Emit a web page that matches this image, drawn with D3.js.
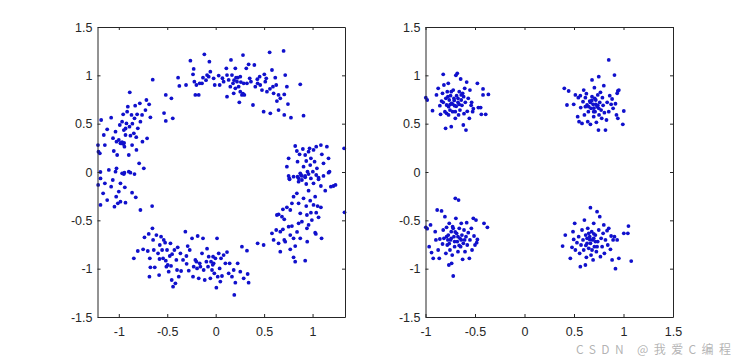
<!DOCTYPE html>
<html>
<head>
<meta charset="utf-8">
<script src="https://cdn.jsdelivr.net/npm/d3@7"></script>
<style>
  html, body { margin: 0; padding: 0; background: #ffffff; }
  svg { display: block; }
</style>
</head>
<body>
<svg id="chart" width="745" height="356"></svg>
<script>
// ---------------- DATA ----------------
// Left panel: noisy ring split in four arcs
const ringTop = [
  [-0.65,0.955],[-0.515,0.797],[-0.457,0.762],[-0.533,0.61],[-0.515,0.528],[-0.443,0.555],
  [-0.388,0.976],[-0.375,0.89],[-0.306,0.90],[-0.261,1.152],[-0.227,1.066],[-0.234,1.01],
  [-0.22,0.934],[-0.21,0.797],[-0.175,0.797],[-0.199,0.90],[-0.165,0.917],[-0.141,0.917],
  [-0.117,1.217],[-0.131,0.976],[-0.089,1.003],[-0.065,1.141],[-0.055,1.038],[-0.072,0.986],
  [-0.021,0.969],[-0.01,0.90],[0.031,0.997],[0.041,0.90],[0.082,0.934],[0.11,1.072],
  [0.117,1.003],[0.117,0.779],[0.134,0.952],[0.151,0.883],[0.158,1.159],[0.168,1.003],
  [0.179,0.917],[0.186,0.814],[0.203,1.072],[0.21,0.976],[0.22,0.934],[0.227,0.976],
  [0.237,0.883],[0.244,0.721],[0.254,0.986],[0.271,0.797],[0.282,1.21],[0.289,0.917],
  [0.296,0.797],[0.316,1.072],[0.323,0.917],[0.34,1.114],[0.351,0.969],[0.364,0.934],
  [0.385,0.693],[0.399,1.107],[0.409,0.883],[0.433,0.917],[0.454,0.986],[0.46,0.90],
  [0.478,0.848],[0.495,0.624],[0.502,1.01],[0.512,0.934],[0.522,0.969],[0.529,0.831],
  [0.557,1.238],[0.564,0.607],[0.581,1.055],[0.591,0.883],[0.598,0.814],[0.615,0.976],
  [0.625,0.90],[0.632,0.734],[0.649,0.641],[0.667,0.762],[0.701,1.252],[0.708,0.803],
  [0.718,1.003],[0.735,0.883],[0.746,0.703],[0.708,0.59],[0.777,0.562],[0.873,0.907],
  [0.907,0.583],[0.649,0.797],[0.254,0.831],[0.203,0.866],[0.282,0.810],[0.19,0.95],
  [0.26,0.93],[0.43,0.96],[0.56,0.86],[0.07,0.97],[-0.10,0.95]
];
const ringLeft = [
  [-0.887,0.824],[-1.215,0.279],[-1.21,0.21],[-1.196,0.193],[-1.182,0.538],[-1.155,0.383],
  [-1.144,0.279],[-1.12,0.441],[-1.079,0.562],[-1.052,0.217],[-1.034,0.417],[-1.024,0.314],
  [-1.017,0.176],[-1.0,0.331],[-0.99,0.486],[-0.983,0.297],[-0.966,0.521],[-0.955,0.597],
  [-0.948,0.434],[-0.942,0.262],[-0.931,0.383],[-0.921,0.503],[-0.914,0.624],[-0.907,0.676],
  [-0.897,0.176],[-0.89,0.469],[-0.88,0.376],[-0.869,0.59],[-0.863,0.279],[-0.845,0.40],
  [-0.838,0.555],[-0.831,0.686],[-0.818,0.228],[-0.811,0.597],[-0.804,0.452],[-0.79,0.09],
  [-0.783,0.71],[-0.777,0.521],[-0.76,0.59],[-0.756,0.314],[-0.742,0.038],[-0.725,0.641],
  [-0.715,0.745],[-0.708,0.348],[-0.687,0.70],[-0.674,0.566],[-0.966,0.31],[-0.955,0.29],
  [-0.945,0.30],[-0.975,0.30],[-1.103,0.021],[-1.024,0.038],[-0.942,-0.007],[-0.897,0.003],
  [-1.19,0.0],[-1.189,-0.066],[-1.162,-0.221],[-1.144,-0.117],[-1.213,-0.134],[-1.12,-0.29],
  [-1.079,-0.152],[-1.062,-0.083],[-1.034,0.003],[-1.045,-0.359],[-1.027,-0.255],[-1.01,-0.324],
  [-1.0,-0.203],[-0.983,-0.117],[-0.983,-0.307],[-0.966,-0.014],[-0.948,-0.021],[-0.938,-0.159],
  [-0.931,-0.317],[-0.88,-0.007],[-0.863,-0.214],[-0.838,-0.021],[-0.825,-0.262],[-0.777,-0.393],
  [-0.656,-0.352],[-1.189,-0.341],[-0.93,0.45],[-0.86,0.50],[-1.06,0.35],[-0.82,0.36]
];
const ringBottom = [
  [-0.845,-0.893],[-0.804,-0.817],[-0.749,-0.80],[-0.735,-0.676],[-0.701,-0.817],[-0.691,-0.641],
  [-0.68,-0.893],[-0.674,-0.986],[-0.684,-1.083],[-0.653,-0.583],[-0.646,-0.703],[-0.639,-0.807],
  [-0.629,-0.986],[-0.612,-0.652],[-0.595,-0.841],[-0.584,-1.066],[-0.577,-0.755],[-0.564,-0.669],
  [-0.553,-0.807],[-0.543,-0.893],[-0.536,-0.703],[-0.522,-0.731],[-0.515,-0.917],[-0.509,-0.979],
  [-0.502,-0.807],[-0.495,-0.962],[-0.485,-1.031],[-0.474,-0.869],[-0.467,-0.738],[-0.461,-0.972],
  [-0.454,-1.117],[-0.44,-1.186],[-0.426,-0.807],[-0.416,-1.152],[-0.406,-0.91],[-0.399,-1.014],
  [-0.392,-0.779],[-0.381,-1.083],[-0.364,-0.841],[-0.357,-1.024],[-0.337,-0.91],[-0.313,-0.617],
  [-0.302,-0.869],[-0.289,-0.766],[-0.278,-1.021],[-0.268,-0.807],[-0.244,-0.686],[-0.234,-1.083],
  [-0.227,-0.979],[-0.21,-0.91],[-0.199,-0.928],[-0.192,-0.997],[-0.186,-0.662],[-0.175,-1.10],
  [-0.165,-0.945],[-0.158,-0.979],[-0.141,-0.841],[-0.131,-0.686],[-0.124,-1.014],[-0.113,-1.117],
  [-0.096,-0.928],[-0.089,-0.793],[-0.079,-0.979],[-0.072,-0.876],[-0.055,-1.10],[-0.048,-0.928],
  [-0.038,-1.014],[-0.027,-0.876],[-0.021,-0.945],[-0.014,-1.048],[-0.003,-0.893],[0.007,-1.197],
  [0.014,-0.686],[0.021,-1.083],[0.031,-0.841],[0.041,-0.997],[0.048,-1.134],[0.055,-0.893],
  [0.065,-1.076],[0.082,-0.859],[0.10,-0.945],[0.117,-0.828],[0.134,-1.048],[0.144,-0.945],
  [0.168,-1.083],[0.186,-1.014],[0.192,-1.272],[0.203,-1.145],[0.227,-0.945],[0.254,-1.031],
  [0.271,-0.772],[0.289,-1.10],[0.323,-0.814],[0.33,-1.055],[0.34,-1.145],[0.433,-0.738],
  [0.495,-0.755],[-0.45,-0.85],[-0.30,-0.95],[-0.03,-0.96],[-0.58,-0.90]
];
const ringRight = [
  [0.735,0.055],[0.753,0.141],[0.76,-0.066],[0.821,0.269],[0.838,0.217],[0.845,0.107],
  [0.866,0.183],[0.88,-0.031],[0.90,0.238],[0.907,0.055],[0.924,0.176],[0.935,0.114],
  [0.948,0.003],[0.959,0.21],[0.969,0.245],[0.976,0.072],[0.983,0.141],[1.003,0.003],
  [1.01,0.228],[1.021,0.107],[1.038,0.262],[1.045,0.038],[1.062,-0.059],[1.086,0.279],
  [1.096,0.183],[1.113,0.09],[1.148,0.262],[1.165,0.141],[1.175,0.003],[1.326,0.245],
  [0.804,-0.048],[0.856,-0.065],[0.890,-0.041],[0.924,-0.055],
  [0.753,-0.041],[0.763,-0.076],[0.845,-0.048],[0.856,-0.10],[0.873,-0.014],[0.89,-0.083],
  [0.924,-0.041],[0.935,-0.124],[0.959,-0.021],[0.983,-0.066],[1.01,-0.117],[1.038,-0.031],
  [1.062,-0.076],[1.086,-0.145],[1.113,-0.041],[1.131,-0.193],[1.165,-0.007],[1.189,-0.152],
  [1.216,-0.145],[1.237,-0.134],[1.33,-0.417],[0.838,-0.221],[0.856,-0.324],[0.873,-0.428],
  [0.907,-0.272],[0.935,-0.352],[0.942,-0.445],[0.959,-0.193],[0.976,-0.297],[0.983,-0.421],
  [0.993,-0.497],[1.01,-0.341],[1.027,-0.255],[1.038,-0.421],[1.052,-0.352],[1.062,-0.469],
  [1.086,-0.365],[0.942,-0.583],[0.959,-0.548],[1.027,-0.628],[1.034,-0.641],[1.093,-0.686],
  [0.945,-0.721],[0.787,-0.324],[0.804,-0.255],[0.77,-0.393],[0.735,-0.365],[0.694,-0.386],
  [0.684,-0.462],[0.708,-0.49],[0.649,-0.438],[0.632,-0.445],[0.667,-0.617],[0.694,-0.593],
  [0.708,-0.703],[0.718,-0.721],[0.753,-0.566],[0.77,-0.652],[0.787,-0.559],[0.804,-0.686],
  [0.821,-0.766],[0.856,-0.531],[0.873,-0.686],[0.84,-0.62],[0.89,-0.514],[0.581,-0.634],
  [0.598,-0.703],[0.625,-0.60],[0.667,-0.824],[0.804,-0.883],[0.821,-0.928],[0.924,-0.917],
  [0.649,-0.738],[0.77,-0.80]
];

// Right panel: four clusters
const clusterTL = [
  [-0.997,0.769],[-0.983,0.745],[-0.929,0.634],[-0.889,0.797],[-0.872,0.866],[-0.855,0.686],
  [-0.848,0.597],[-0.838,0.734],[-0.828,0.814],[-0.821,1.01],[-0.814,0.90],[-0.804,0.624],
  [-0.797,0.452],[-0.794,0.762],[-0.787,0.693],[-0.78,0.831],[-0.77,0.917],[-0.767,0.59],
  [-0.76,0.745],[-0.753,0.641],[-0.747,0.79],[-0.74,0.469],[-0.736,0.71],[-0.726,0.624],
  [-0.72,0.848],[-0.713,0.762],[-0.706,0.686],[-0.699,0.555],[-0.693,1.0],[-0.686,0.79],
  [-0.679,1.021],[-0.672,0.721],[-0.666,0.59],[-0.659,0.831],[-0.652,0.641],[-0.645,0.962],
  [-0.639,0.745],[-0.632,0.69],[-0.625,0.814],[-0.618,0.486],[-0.611,0.603],[-0.604,0.866],
  [-0.598,0.721],[-0.591,0.434],[-0.584,0.93],[-0.578,0.628],[-0.568,0.762],[-0.557,0.555],
  [-0.551,0.848],[-0.539,0.69],[-0.534,0.721],[-0.524,0.624],[-0.517,0.655],[-0.476,0.917],
  [-0.466,0.666],[-0.443,0.666],[-0.436,0.597],[-0.419,0.797],[-0.419,0.859],[-0.392,0.597],
  [-0.365,0.803],[-0.74,0.831],[-0.774,0.779],[-0.672,0.762],[-0.639,0.797],[-0.726,0.703],
  [-0.767,0.676],[-0.699,0.624],[-0.615,0.779],[-0.821,0.721],[-0.787,0.607],[-0.71,0.74],
  [-0.75,0.70],[-0.69,0.68],[-0.66,0.70]
];
const clusterTR = [
  [0.402,0.866],[0.429,0.693],[0.446,0.838],[0.497,0.70],[0.514,0.797],[0.537,0.572],
  [0.544,0.769],[0.551,0.521],[0.564,0.79],[0.568,0.666],[0.581,0.503],[0.591,0.728],
  [0.598,0.848],[0.605,0.59],[0.615,0.769],[0.625,0.81],[0.632,0.693],[0.639,0.521],
  [0.645,0.624],[0.659,0.734],[0.666,0.493],[0.672,0.659],[0.682,0.952],[0.682,0.779],
  [0.693,0.70],[0.699,0.572],[0.706,0.872],[0.713,0.624],[0.72,0.745],[0.726,0.514],
  [0.733,0.676],[0.74,0.797],[0.747,0.434],[0.75,0.986],[0.753,0.59],[0.76,0.72],
  [0.767,0.824],[0.774,0.641],[0.78,0.555],[0.787,0.769],[0.794,0.69],[0.801,0.893],
  [0.807,0.614],[0.818,0.434],[0.828,0.538],[0.835,0.721],[0.851,1.159],[0.851,0.624],
  [0.861,0.79],[0.875,0.70],[0.885,0.755],[0.895,0.659],[0.909,1.003],[0.919,0.706],
  [0.929,0.59],[0.936,0.814],[0.943,0.838],[0.953,0.848],[0.943,0.555],[0.993,0.493],
  [1.003,0.631],[0.709,0.762],[0.666,0.72],[0.649,0.676],[0.75,0.659],[0.699,0.624],
  [0.615,0.676],[0.72,0.70],[0.68,0.74],[0.74,0.69],[0.70,0.66]
];
const clusterBL = [
  [-0.997,-0.572],[-0.983,-0.586],[-0.963,-0.772],[-0.949,-0.548],[-0.939,-0.834],[-0.922,-0.893],
  [-0.902,-0.617],[-0.895,-0.703],[-0.882,-0.393],[-0.872,-0.807],[-0.861,-0.893],[-0.855,-0.693],
  [-0.838,-0.403],[-0.828,-0.745],[-0.821,-0.60],[-0.814,-0.686],[-0.804,-0.462],[-0.794,-0.841],
  [-0.787,-0.572],[-0.78,-0.755],[-0.77,-0.652],[-0.764,-0.962],[-0.76,-0.531],[-0.753,-0.807],
  [-0.747,-0.703],[-0.74,-0.617],[-0.736,-0.945],[-0.73,-0.859],[-0.726,-0.566],[-0.72,-1.076],
  [-0.713,-0.669],[-0.706,-0.772],[-0.699,-0.272],[-0.693,-0.479],[-0.686,-0.634],[-0.679,-0.72],
  [-0.672,-0.824],[-0.666,-0.29],[-0.659,-0.583],[-0.652,-0.686],[-0.645,-0.772],[-0.639,-0.531],
  [-0.632,-0.652],[-0.625,-0.903],[-0.618,-0.738],[-0.611,-0.60],[-0.601,-0.824],[-0.591,-0.669],
  [-0.584,-0.524],[-0.578,-0.755],[-0.568,-0.628],[-0.557,-0.893],[-0.551,-0.703],[-0.537,-0.583],
  [-0.53,-0.807],[-0.517,-0.479],[-0.51,-0.662],[-0.50,-0.755],[-0.49,-0.497],[-0.483,-0.731],
  [-0.476,-0.697],[-0.409,-0.531],[-0.375,-0.572],[-0.639,-0.703],[-0.672,-0.669],[-0.706,-0.72],
  [-0.74,-0.686],[-0.774,-0.703],[-0.605,-0.703],[-0.720,-0.583],[-0.787,-0.669],[-0.70,-0.62],
  [-0.76,-0.74],[-0.66,-0.76]
];
const clusterBR = [
  [0.385,-0.766],[0.412,-0.652],[0.463,-0.893],[0.48,-0.779],[0.49,-0.617],[0.497,-0.697],
  [0.507,-0.531],[0.514,-0.807],[0.53,-0.731],[0.547,-0.669],[0.557,-0.841],[0.564,-0.979],
  [0.571,-0.755],[0.581,-0.60],[0.591,-0.703],[0.598,-0.807],[0.605,-0.497],[0.615,-0.962],
  [0.618,-0.652],[0.625,-0.883],[0.632,-0.738],[0.639,-0.583],[0.649,-0.79],[0.659,-0.669],
  [0.666,-0.369],[0.672,-0.859],[0.679,-0.617],[0.686,-0.703],[0.693,-0.91],[0.699,-0.531],
  [0.706,-0.772],[0.716,-0.652],[0.726,-0.824],[0.733,-0.41],[0.74,-0.72],[0.75,-0.60],
  [0.76,-0.462],[0.767,-0.876],[0.774,-0.686],[0.784,-0.772],[0.794,-0.634],[0.801,-0.548],
  [0.807,-0.841],[0.818,-0.703],[0.834,-0.607],[0.841,-0.755],[0.851,-0.583],[0.868,-0.80],
  [0.875,-0.662],[0.885,-0.91],[0.895,-0.703],[0.909,-0.669],[0.919,-1.0],[0.936,-0.703],
  [0.953,-0.893],[1.003,-0.634],[1.044,-0.634],[1.05,-0.559],[1.078,-0.921],[0.666,-0.738],
  [0.699,-0.686],[0.649,-0.634],[0.733,-0.772],[0.682,-0.807],[0.632,-0.686],[0.716,-0.72],
  [0.62,-0.76],[0.66,-0.70],[0.70,-0.64]
];

// Axis ticks
const yTicks = [-1.5, -1, -0.5, 0, 0.5, 1, 1.5];
const xTicksLeft = [-1, -0.5, 0, 0.5, 1];
const xTicksRight = [-1, -0.5, 0, 0.5, 1, 1.5];
const xDomainLeft = [-1.22, 1.335];
const xDomainRight = [-1, 1.5];
const yDomain = [-1.5, 1.5];
const watermark = "CSDN @我爱C编程";

// ---------------- DRAW ----------------
const svg = d3.select("#chart");
const FONT = "'Liberation Sans', Arial, sans-serif";
const AXIS_COLOR = "#262626";
const DOT_COLOR = "#1010cc";

function panel(x0, x1, xDomain, xTicks, series) {
  const top = 27, bottom = 317;
  const x = d3.scaleLinear().domain(xDomain).range([x0, x1]);
  const y = d3.scaleLinear().domain(yDomain).range([bottom, top]);
  const g = svg.append("g");

  g.append("rect").attr("x", x0).attr("y", top).attr("width", x1 - x0).attr("height", bottom - top)
    .attr("fill", "#ffffff");

  const pts = series.flat();
  g.append("g").selectAll("circle").data(pts).join("circle")
    .attr("cx", d => x(d[0])).attr("cy", d => y(d[1])).attr("r", 1.9)
    .attr("fill", DOT_COLOR);

  const fmt = d => String(d);
  const styleAxis = sel => {
    sel.select(".domain").attr("stroke", AXIS_COLOR).attr("stroke-width", 1);
    sel.selectAll(".tick line").attr("stroke", AXIS_COLOR).attr("stroke-width", 1);
    sel.selectAll("text").attr("fill", AXIS_COLOR).style("font-family", FONT).style("font-size", "12.5px");
  };

  g.append("g").attr("transform", `translate(0,${bottom})`)
    .call(d3.axisBottom(x).tickValues(xTicks).tickFormat(fmt).tickSizeInner(-3).tickSizeOuter(0).tickPadding(10))
    .call(styleAxis);
  g.append("g").attr("transform", `translate(0,${top})`)
    .call(d3.axisTop(x).tickValues(xTicks).tickFormat("").tickSizeInner(-3).tickSizeOuter(0))
    .call(styleAxis);
  g.append("g").attr("transform", `translate(${x0},0)`)
    .call(d3.axisLeft(y).tickValues(yTicks).tickFormat(fmt).tickSizeInner(-3).tickSizeOuter(0).tickPadding(5))
    .call(styleAxis);
  g.append("g").attr("transform", `translate(${x1},0)`)
    .call(d3.axisRight(y).tickValues(yTicks).tickFormat("").tickSizeInner(-3).tickSizeOuter(0))
    .call(styleAxis);
}

panel(97.5, 345, xDomainLeft, xTicksLeft, [ringTop, ringLeft, ringBottom, ringRight]);
panel(425.5, 673, xDomainRight, xTicksRight, [clusterTL, clusterTR, clusterBL, clusterBR]);

svg.append("text").attr("x", 576).attr("y", 354)
  .attr("fill", "#9a9a9a").attr("fill-opacity", 0.75)
  .attr("textLength", 155).attr("lengthAdjust", "spacing")
  .style("font-family", "'Noto Sans CJK SC', 'Liberation Sans', sans-serif").style("font-size", "12px")
  .text(watermark);
</script>
</body>
</html>
